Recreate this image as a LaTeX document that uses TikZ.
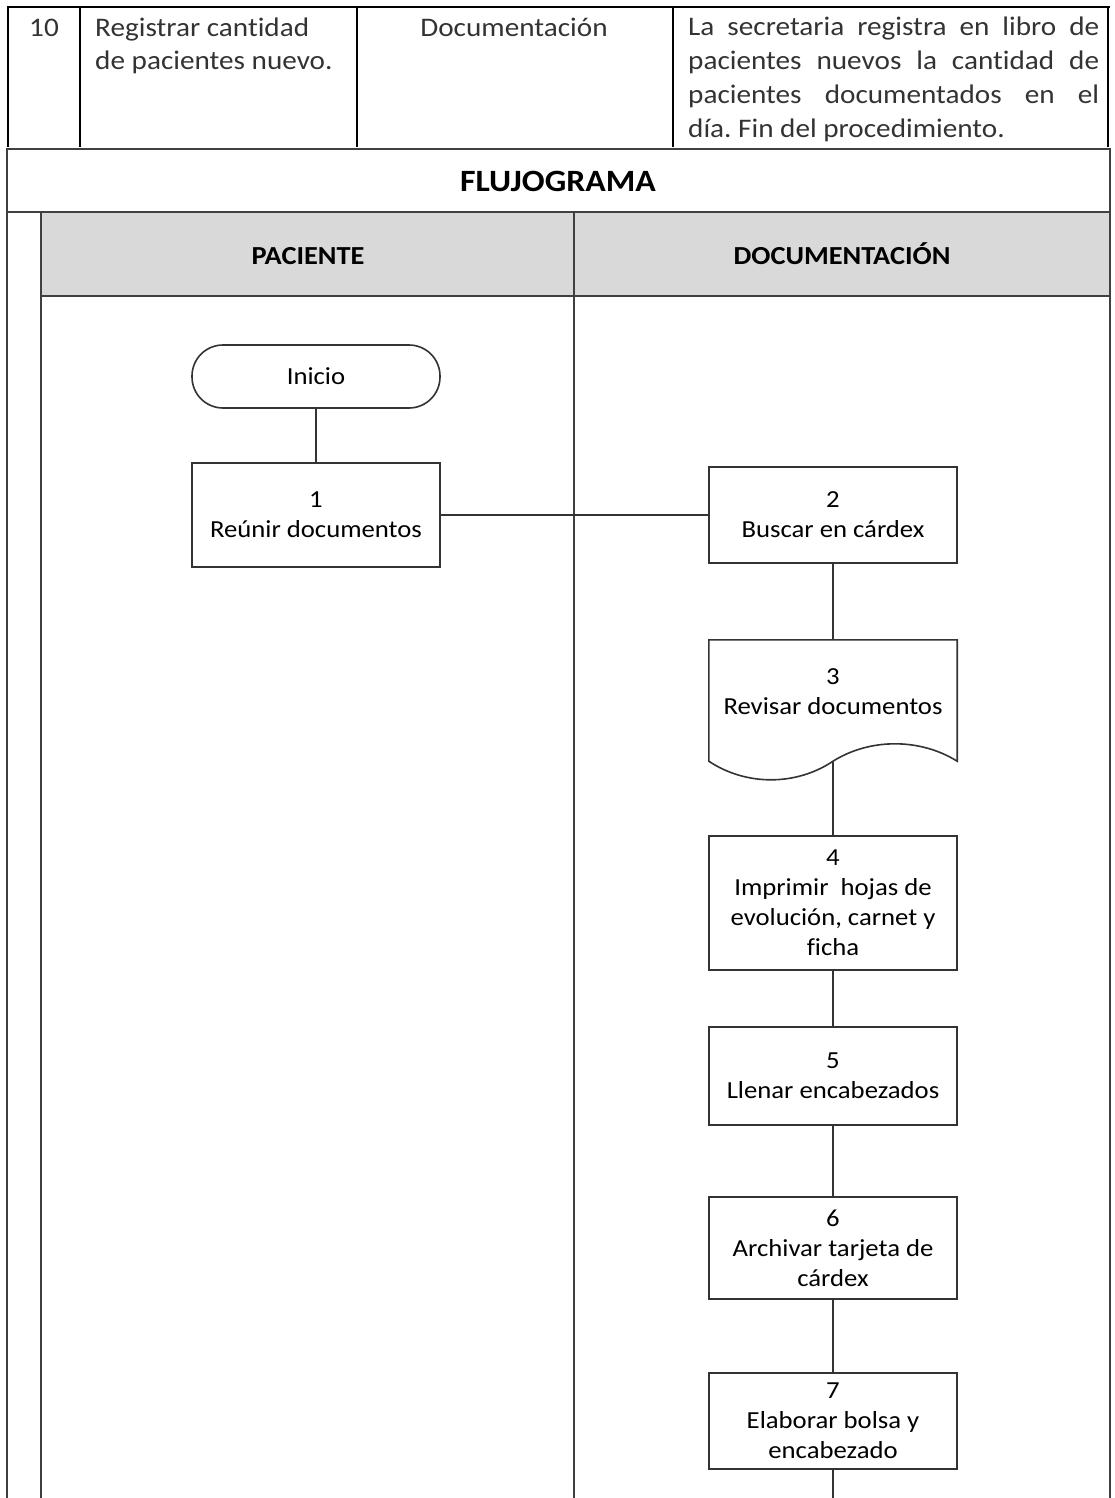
\documentclass[tikz,border=0pt]{standalone}
\usepackage{fontspec}
\setmainfont{Carlito}[FakeStretch=1.09, Ligatures=NoCommon]
\frenchspacing
\begin{document}
\begin{tikzpicture}[x=1pt,y=-1pt,
  tabline/.style={draw=black, line width=2.2pt},
  frame/.style={draw=black!75, line width=2pt},
  flowline/.style={draw=black!80, line width=1.4pt},
  cell/.style={inner sep=0pt, text=black!80, font=\fontsize{26.8}{34}\selectfont},
  lanehead/.style={inner sep=0pt, anchor=base, font=\bfseries\fontsize{26}{30}\selectfont},
  stepbox/.style={draw=black!80, line width=1.6pt, fill=white, inner sep=0pt,
    minimum width=248pt, align=center, font=\fontsize{24.5}{30}\selectfont},
  terminal/.style={stepbox, rounded corners=31pt},
]
\useasboundingbox (0,0) rectangle (1115,1498);

% ---- last row of the procedure table ----
\draw[tabline] (7,7) -- (1110,7);
\foreach \x in {8,80,357,673,1108} \draw[tabline] (\x,7) -- (\x,147);

\node[cell, anchor=base] (num) at (44,37) {10};
\node[cell, anchor=base west] (act1) at (95,37) {Registrar cantidad};
\node[cell, anchor=base west] (act2) at (95,70) {de pacientes nuevo.};
\node[cell, anchor=base] (resp) at (514,37) {Documentación};
\node[cell, anchor=base west] (desc1) at (688,36)
  {\makebox[411pt][s]{La secretaria registra en libro de}};
\node[cell, anchor=base west] (desc2) at (688,70)
  {\makebox[411pt][s]{pacientes nuevos la cantidad de}};
\node[cell, anchor=base west] (desc3) at (688,104)
  {\makebox[411pt][s]{pacientes documentados en el}};
\node[cell, anchor=base west] (desc4) at (688,138)
  {día. Fin del procedimiento.};

% ---- flowchart frame with two swimlanes ----
\fill[fill={rgb,255:red,217;green,217;blue,217}] (41,212) rectangle (1110,296);
\draw[frame] (7,1498) -- (7,149) -- (1110,149) -- (1110,1498);
\draw[frame] (7,212) -- (1110,212);
\draw[frame] (41,212) -- (41,1498);
\draw[frame] (41,296) -- (1110,296);
\draw[frame] (574,212) -- (574,1498);

\node[inner sep=0pt, anchor=base, font=\bfseries\fontsize{31}{36}\selectfont] (title) at (558,192) {FLUJOGRAMA};
\node[lanehead] (lane1) at (308,264) {PACIENTE};
\node[lanehead] (lane2) at (842,264) {DOCUMENTACIÓN};

% ---- process steps ----
\node[terminal, minimum height=63pt] (start) at (316,376.5) {Inicio};
\node[stepbox, minimum height=104pt] (s1) at (316,515) {1\\Reúnir documentos};
\node[stepbox, minimum height=96pt] (s2) at (833,515) {2\\Buscar en cárdex};

% document symbol for step 3
\node[minimum width=248pt, minimum height=121pt, inner sep=0pt] (s3) at (833,700.5) {};
\draw[draw=black!80, line width=1.6pt, fill=white]
  (s3.south west) -- (s3.north west) -- (s3.north east) -- (s3.south east)
  .. controls (920,738) and (870,738) .. (s3.south)
  .. controls (796,786) and (746,786) .. (s3.south west) -- cycle;
\node[align=center, inner sep=0pt, font=\fontsize{24.5}{30}\selectfont] (s3t) at (833,692) {3\\Revisar documentos};

\node[stepbox, minimum height=134pt] (s4) at (833,903) {4\\Imprimir\ \ hojas de\\evolución, carnet y\\ficha};
\node[stepbox, minimum height=98pt] (s5) at (833,1076) {5\\Llenar encabezados};
\node[stepbox, minimum height=102pt] (s6) at (833,1248) {6\\Archivar tarjeta de\\cárdex};
\node[stepbox, minimum height=96pt] (s7) at (833,1421) {7\\Elaborar bolsa y\\encabezado};
\coordinate (cont) at (833,1498);

% ---- connectors ----
\draw[flowline] (start) -- (s1);
\draw[flowline] (s1.east) -- (s2.west);
\draw[flowline] (s2.south) -- (s3.north);
\draw[flowline] (s3.south) -- (s4.north);
\draw[flowline] (s4) -- (s5);
\draw[flowline] (s5) -- (s6);
\draw[flowline] (s6) -- (s7);
\draw[flowline] (s7.south) -- (cont);
\end{tikzpicture}
\end{document}
